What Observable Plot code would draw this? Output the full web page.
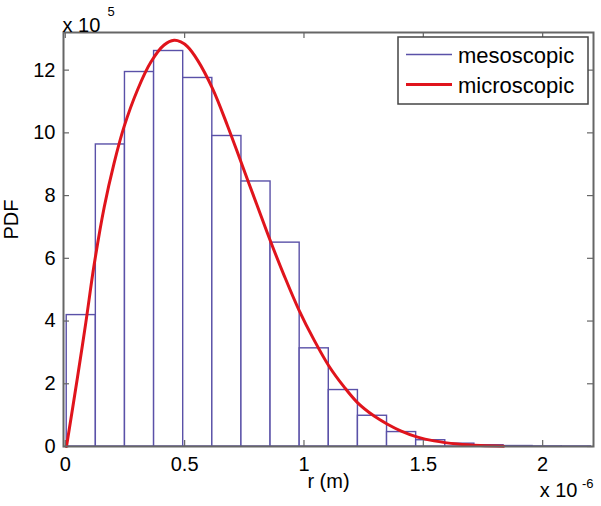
<!DOCTYPE html>
<html><head><meta charset="utf-8">
<script src="https://cdn.jsdelivr.net/npm/d3@7"></script>
<script src="https://cdn.jsdelivr.net/npm/@observablehq/plot@0.6"></script>
<style>
html,body{margin:0;padding:0;background:#fff;}
#chart{width:601px;height:506px;}
</style></head><body><div id="chart"></div>
<script>
// Histogram bin edges (units of 1e-6 m) and heights (units of 1e5)
const binEdges = [0.006, 0.128, 0.250, 0.372, 0.494, 0.616, 0.738, 0.860, 0.982, 1.104, 1.226, 1.348, 1.470, 1.592, 1.714, 1.836, 1.958, 2.080, 2.202];
const mesoValues = [4.19, 9.63, 11.94, 12.61, 11.75, 9.90, 8.45, 6.50, 3.13, 1.80, 0.98, 0.46, 0.20, 0.09, 0.04, 0.015, 0.005, 0.003];

// Microscopic curve
const curveX = [0.005, 0.051, 0.086, 0.121, 0.163, 0.204, 0.246, 0.302, 0.358, 0.414, 0.456, 0.484, 0.512, 0.554, 0.617, 0.680, 0.742, 0.805, 0.861, 0.917, 0.979, 1.042, 1.105, 1.168, 1.224, 1.294, 1.350, 1.405, 1.476, 1.545, 1.643, 1.740, 1.837];
const curveY = [0, 2.20, 3.95, 5.80, 7.63, 9.02, 10.19, 11.36, 12.25, 12.80, 12.95, 12.90, 12.75, 12.32, 11.41, 10.22, 8.95, 7.66, 6.52, 5.45, 4.35, 3.40, 2.56, 1.90, 1.40, 0.97, 0.71, 0.50, 0.30, 0.18, 0.08, 0.03, 0.01];

const xTicks = [0, 0.5, 1, 1.5, 2];
const yTicks = [0, 2, 4, 6, 8, 10, 12];
const seriesNames = ["mesoscopic", "microscopic"];

const bins = mesoValues.map((v, i) => ({x1: binEdges[i], x2: binEdges[i + 1], v}));
const curve = curveX.map((x, i) => ({x, y: curveY[i]}));

const axisColor = "#666666";
const mesoColor = "#5a51a8";
const microColor = "#e0141c";
const font = "Arial, 'Liberation Sans', Helvetica, sans-serif";

const plot = Plot.plot({
  width: 601, height: 506,
  marginLeft: 63, marginRight: 8, marginTop: 32, marginBottom: 60,
  style: {fontFamily: font, fontSize: "19px", color: "#000", background: "#fff"},
  x: {domain: [-0.0075, 2.213]},
  y: {domain: [0, 13.2]},
  marks: [
    Plot.rect(bins, {x1: "x1", x2: "x2", y1: 0, y2: "v", fill: "white", stroke: mesoColor, strokeWidth: 1.4}),
    Plot.line(curve, {x: "x", y: "y", stroke: microColor, strokeWidth: 3, curve: "catmull-rom"}),
    Plot.frame({stroke: axisColor, strokeWidth: 2}),
    Plot.ruleX(xTicks, {x: d => d, insetTop: 408, stroke: axisColor, strokeWidth: 1.2}),
    Plot.ruleX(xTicks, {x: d => d, insetBottom: 408, stroke: axisColor, strokeWidth: 1.2}),
    Plot.ruleY(yTicks, {y: d => d, insetRight: 524, stroke: axisColor, strokeWidth: 1.2}),
    Plot.ruleY(yTicks, {y: d => d, insetLeft: 524, stroke: axisColor, strokeWidth: 1.2}),
    Plot.axisX(xTicks, {tickSize: 0, tickPadding: 10, tickFormat: d => String(d), fontSize: 20, label: null}),
    Plot.axisY(yTicks, {tickSize: 0, tickPadding: 8, tickFormat: d => String(d), fontSize: 20, label: null}),
    Plot.text(["r (m)"], {frameAnchor: "bottom", dy: 41, fontSize: 20}),
    Plot.text(["PDF"], {frameAnchor: "left", dx: -52, rotate: -90, fontSize: 20}),
    Plot.text(["x 10"], {frameAnchor: "top-left", dx: -1, dy: -15, textAnchor: "start", fontSize: 20}),
    Plot.text(["5"], {frameAnchor: "top-left", dx: 44, dy: -26, textAnchor: "start", fontSize: 13}),
    Plot.text(["x 10"], {frameAnchor: "bottom-right", dx: -16, dy: 50, textAnchor: "end", fontSize: 20}),
    Plot.text(["-6"], {frameAnchor: "bottom-right", dx: 0, dy: 41, textAnchor: "end", fontSize: 13})
  ]
});
document.getElementById("chart").appendChild(plot);

// Legend box inside the axes (top-right)
const svg = d3.select(plot);
const lg = svg.append("g").attr("font-family", font).attr("font-size", 22).attr("text-anchor", "start");
lg.append("rect").attr("x", 398).attr("y", 37).attr("width", 190).attr("height", 67)
  .attr("fill", "white").attr("stroke", "#444").attr("stroke-width", 1.5);
const legendItems = [
  {name: seriesNames[0], color: mesoColor, w: 1.4, y: 54.5},
  {name: seriesNames[1], color: microColor, w: 3, y: 84.5}
];
legendItems.forEach(it => {
  lg.append("line").attr("x1", 406).attr("x2", 452).attr("y1", it.y).attr("y2", it.y)
    .attr("stroke", it.color).attr("stroke-width", it.w);
  lg.append("text").attr("x", 458).attr("y", it.y + 8.5).attr("fill", "#000")
    .attr("text-anchor", "start").text(it.name);
});
</script>
</body></html>
